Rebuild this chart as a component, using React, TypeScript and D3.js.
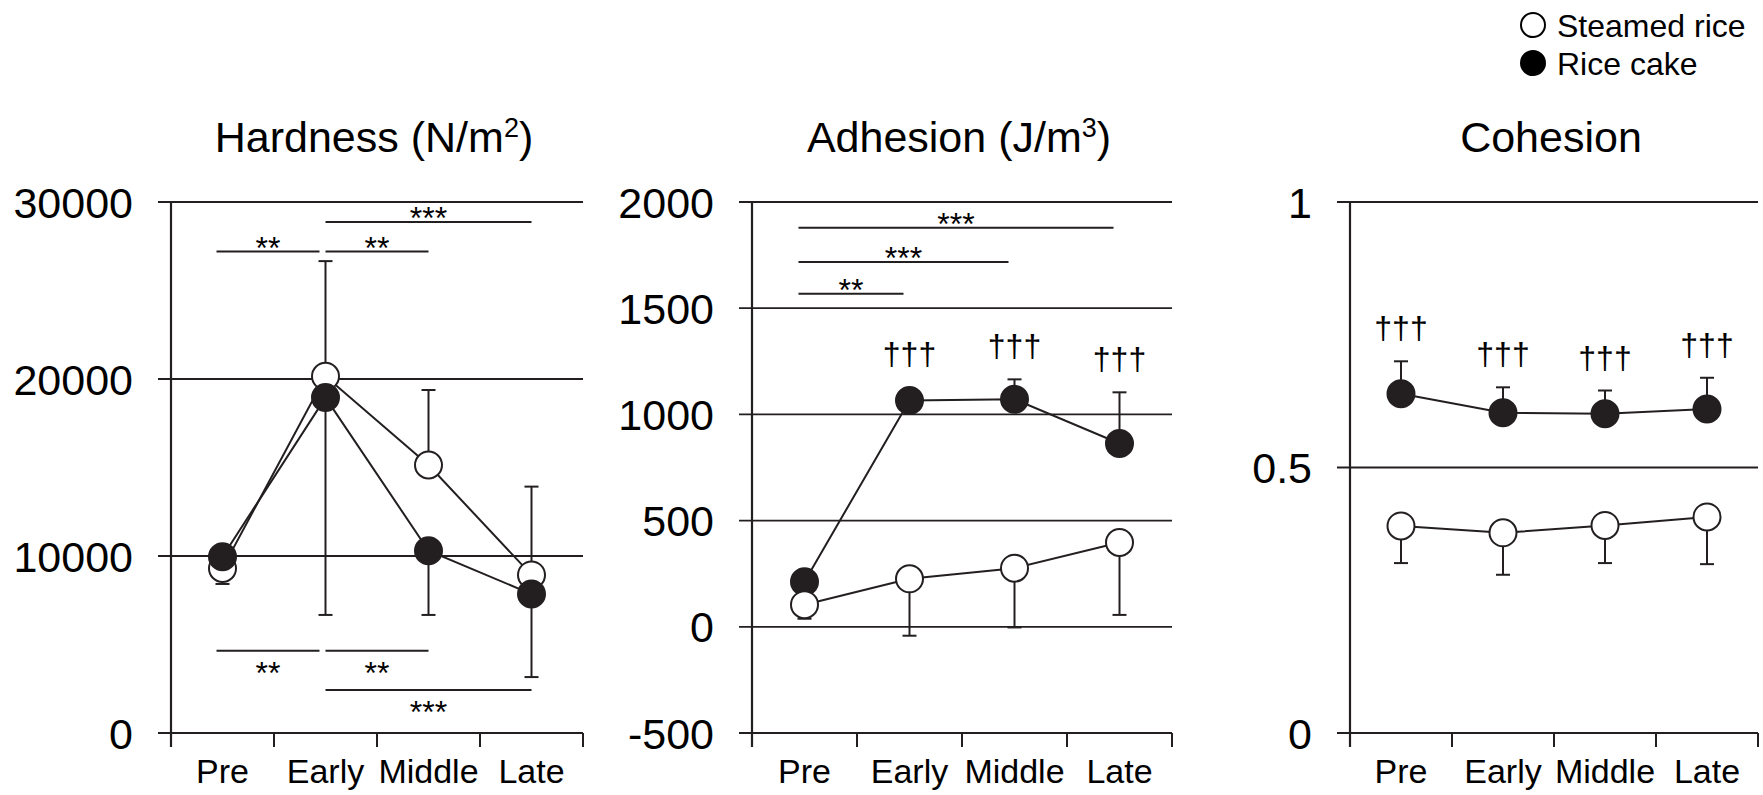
import { useEffect, useRef } from 'react';
import * as d3 from 'd3';

const categories = ['Pre', 'Early', 'Middle', 'Late'];

// Hardness (N/m2)
const hardnessTicks = [0, 10000, 20000, 30000];
const hardnessSteamed = [9300, 20150, 15140, 8930];
const hardnessSteamedTip = [8420, 26660, 19380, 13920];
const hardnessCake = [9960, 18950, 10300, 7850];
const hardnessCakeTip = [9960, 6670, 6670, 3160];

// Adhesion (J/m3)
const adhesionTicks = [-500, 0, 500, 1000, 1500, 2000];
const adhesionSteamed = [104, 226, 276, 397];
const adhesionSteamedTip = [38, -42, -3, 56];
const adhesionCake = [212, 1066, 1071, 863];
const adhesionCakeTip = [212, 1115, 1165, 1104];

// Cohesion
const cohesionTicks = [0, 0.5, 1];
const cohesionSteamed = [0.39, 0.377, 0.391, 0.407];
const cohesionSteamedTip = [0.32, 0.298, 0.32, 0.318];
const cohesionCake = [0.639, 0.603, 0.601, 0.61];
const cohesionCakeTip = [0.7, 0.651, 0.645, 0.669];

interface Bracket {
  from: string;
  to: string;
  value: number;
  label: string;
  below?: boolean;
}

const hardnessBrackets: Bracket[] = [
  { from: 'Pre', to: 'Early', value: 27200, label: '**' },
  { from: 'Early', to: 'Middle', value: 27200, label: '**' },
  { from: 'Early', to: 'Late', value: 28870, label: '***' },
  { from: 'Pre', to: 'Early', value: 4650, label: '**', below: true },
  { from: 'Early', to: 'Middle', value: 4650, label: '**', below: true },
  { from: 'Early', to: 'Late', value: 2430, label: '***', below: true },
];

const adhesionBrackets: Bracket[] = [
  { from: 'Pre', to: 'Late', value: 1879, label: '***' },
  { from: 'Pre', to: 'Middle', value: 1717, label: '***' },
  { from: 'Pre', to: 'Early', value: 1568, label: '**' },
];

const adhesionDaggers = ['Early', 'Middle', 'Late'];
const cohesionDaggers = ['Pre', 'Early', 'Middle', 'Late'];

interface Series {
  name: string;
  values: number[];
  tips: number[];
  filled: boolean;
}

interface Panel {
  title: string;
  sup?: string;
  x0: number;
  x1: number;
  domain: [number, number];
  ticks: number[];
  series: Series[]; // drawing order
  brackets: Bracket[];
  daggers: string[];
}

const steamed = (values: number[], tips: number[]): Series => ({ name: 'Steamed rice', values, tips, filled: false });
const cake = (values: number[], tips: number[]): Series => ({ name: 'Rice cake', values, tips, filled: true });

const panels: Panel[] = [
  {
    title: 'Hardness (N/m', sup: '2', x0: 171, x1: 583, domain: [0, 30000], ticks: hardnessTicks,
    series: [steamed(hardnessSteamed, hardnessSteamedTip), cake(hardnessCake, hardnessCakeTip)],
    brackets: hardnessBrackets, daggers: [],
  },
  {
    title: 'Adhesion (J/m', sup: '3', x0: 752, x1: 1172, domain: [-500, 2000], ticks: adhesionTicks,
    series: [cake(adhesionCake, adhesionCakeTip), steamed(adhesionSteamed, adhesionSteamedTip)],
    brackets: adhesionBrackets, daggers: adhesionDaggers,
  },
  {
    title: 'Cohesion', x0: 1350, x1: 1758, domain: [0, 1], ticks: cohesionTicks,
    series: [steamed(cohesionSteamed, cohesionSteamedTip), cake(cohesionCake, cohesionCakeTip)],
    brackets: [], daggers: cohesionDaggers,
  },
];

const W = 1763;
const H = 795;
const TOP = 202;
const BOTTOM = 733;
const INK = '#231f20';
const FONT = '"Liberation Sans", Arial, Helvetica, sans-serif';
const R = 13.5;

export default function App() {
  const svgRef = useRef<SVGSVGElement>(null);

  useEffect(() => {
    if (!svgRef.current) return;
    const svg = d3.select(svgRef.current);
    svg.selectAll('*').remove();

    panels.forEach(p => {
      const g = svg.append('g');
      const x = d3.scaleBand<string>().domain(categories).range([p.x0, p.x1]);
      const cx = (c: string) => (x(c) ?? 0) + x.bandwidth() / 2;
      const y = d3.scaleLinear().domain(p.domain).range([BOTTOM, TOP]);

      // gridlines + y ticks
      p.ticks.forEach(t => {
        g.append('line')
          .attr('x1', p.x0 - 13).attr('x2', p.x1)
          .attr('y1', y(t)).attr('y2', y(t))
          .attr('stroke', INK)
          .attr('stroke-width', t === p.domain[0] ? 2.2 : 1.8);
        g.append('text')
          .attr('x', p.x0 - 38)
          .attr('y', y(t) + 15.5)
          .attr('text-anchor', 'end')
          .style('font-family', FONT)
          .style('font-size', '43px')
          .attr('fill', '#000')
          .text(String(t));
      });

      // y axis line
      g.append('line')
        .attr('x1', p.x0).attr('x2', p.x0)
        .attr('y1', TOP).attr('y2', BOTTOM + 14)
        .attr('stroke', INK).attr('stroke-width', 2.2);

      // x ticks at band edges
      categories.forEach((c, i) => {
        const xe = x(c) ?? 0;
        if (i > 0) {
          g.append('line')
            .attr('x1', xe).attr('x2', xe)
            .attr('y1', BOTTOM).attr('y2', BOTTOM + 14)
            .attr('stroke', INK).attr('stroke-width', 2);
        }
        g.append('text')
          .attr('x', cx(c))
          .attr('y', 783)
          .attr('text-anchor', 'middle')
          .style('font-family', FONT)
          .style('font-size', '34px')
          .attr('fill', '#000')
          .text(c);
      });
      g.append('line')
        .attr('x1', p.x1).attr('x2', p.x1)
        .attr('y1', BOTTOM).attr('y2', BOTTOM + 14)
        .attr('stroke', INK).attr('stroke-width', 2);

      // title
      const title = g.append('text')
        .attr('x', (p.x0 + p.x1) / 2 - 3)
        .attr('y', 152)
        .attr('text-anchor', 'middle')
        .style('font-family', FONT)
        .style('font-size', '43px')
        .attr('fill', '#000');
      title.append('tspan').text(p.title);
      if (p.sup) {
        title.append('tspan').attr('dy', -15).style('font-size', '27px').text(p.sup);
        title.append('tspan').attr('dy', 15).text(')');
      }

      // significance brackets
      p.brackets.forEach(b => {
        const shift = b.from === categories[0] ? -6 : 0;
        const xa = cx(b.from) + shift;
        const xb = cx(b.to) + shift;
        const yy = y(b.value);
        g.append('line')
          .attr('x1', xa).attr('x2', xb)
          .attr('y1', yy).attr('y2', yy)
          .attr('stroke', INK).attr('stroke-width', 2);
        g.append('text')
          .attr('x', (xa + xb) / 2)
          .attr('y', b.below ? yy + 33 : yy + 7)
          .attr('text-anchor', 'middle')
          .style('font-family', FONT)
          .style('font-size', '32px')
          .attr('fill', '#000')
          .text(b.label);
      });

      // error bars
      p.series.forEach(s => {
        s.values.forEach((v, i) => {
          const tip = s.tips[i];
          if (tip === v) return;
          const xc = cx(categories[i]);
          g.append('line')
            .attr('x1', xc).attr('x2', xc)
            .attr('y1', y(v)).attr('y2', y(tip))
            .attr('stroke', INK).attr('stroke-width', 2);
          g.append('line')
            .attr('x1', xc - 7).attr('x2', xc + 7)
            .attr('y1', y(tip)).attr('y2', y(tip))
            .attr('stroke', INK).attr('stroke-width', 2);
        });
      });

      // connecting lines
      const line = d3.line<number>()
        .x((_, i) => cx(categories[i]))
        .y(d => y(d));
      p.series.forEach(s => {
        g.append('path')
          .datum(s.values)
          .attr('fill', 'none')
          .attr('stroke', INK)
          .attr('stroke-width', 2)
          .attr('d', line);
      });

      // markers
      p.series.forEach(s => {
        g.selectAll(null)
          .data(s.values)
          .enter()
          .append('circle')
          .attr('cx', (_, i) => cx(categories[i]))
          .attr('cy', d => y(d))
          .attr('r', R)
          .attr('fill', s.filled ? INK : '#fff')
          .attr('stroke', INK)
          .attr('stroke-width', 2);
      });

      // daggers over rice cake
      const cakeSeries = p.series.find(s => s.filled);
      if (cakeSeries) {
        p.daggers.forEach(c => {
          const i = categories.indexOf(c);
          const top = Math.min(y(cakeSeries.tips[i]), y(cakeSeries.values[i]) - R);
          g.append('text')
            .attr('x', cx(c))
            .attr('y', top - 22)
            .attr('text-anchor', 'middle')
            .style('font-family', FONT)
            .style('font-size', '32px')
            .attr('fill', '#000')
            .text('†††');
        });
      }
    });

    // legend
    const legend = svg.append('g');
    [{ name: 'Steamed rice', filled: false }, { name: 'Rice cake', filled: true }].forEach((d, i) => {
      const ly = 25 + i * 38;
      legend.append('circle')
        .attr('cx', 1533).attr('cy', ly).attr('r', 12)
        .attr('fill', d.filled ? '#000' : '#fff')
        .attr('stroke', '#000').attr('stroke-width', 2);
      legend.append('text')
        .attr('x', 1557).attr('y', ly + 11.5)
        .style('font-family', FONT)
        .style('font-size', '32px')
        .attr('fill', '#000')
        .text(d.name);
    });
  }, []);

  return (
    <div style={{ position: 'absolute', left: 0, top: 0 }}>
      <svg ref={svgRef} width={W} height={H} style={{ display: 'block', background: '#fff' }} />
    </div>
  );
}
